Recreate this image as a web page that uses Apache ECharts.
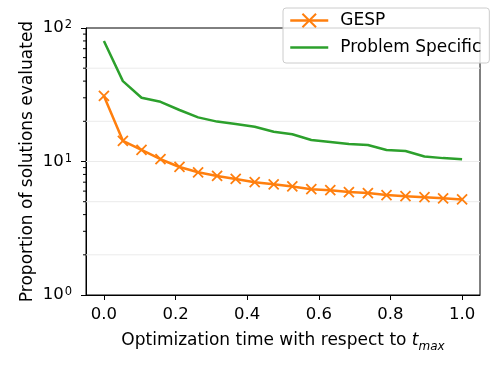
<!DOCTYPE html>
<html>
<head>
<meta charset="utf-8">
<script src="https://cdn.jsdelivr.net/npm/echarts@6/dist/echarts.min.js"></script>
<style>
html,body{margin:0;padding:0;background:#fff;}
#chart{width:498px;height:374px;}
</style>
</head>
<body>
<div id="chart"></div>
<script>
// ---- data ----
const timeValues = [0, 0.053, 0.105, 0.158, 0.211, 0.263, 0.316, 0.368, 0.421, 0.474,
                    0.526, 0.579, 0.632, 0.684, 0.737, 0.789, 0.842, 0.895, 0.947, 1.0];
const gespValues = [31, 14.3, 12.2, 10.4, 9.1, 8.3, 7.8, 7.4, 7.0, 6.75,
                    6.5, 6.2, 6.1, 5.9, 5.8, 5.6, 5.5, 5.4, 5.3, 5.2];
const specificValues = [80, 40, 30, 28, 24.3, 21.4, 19.9, 19.1, 18.2, 16.7,
                        16.0, 14.5, 14.0, 13.5, 13.3, 12.2, 12.0, 10.9, 10.6, 10.4];
const seriesNames = ['GESP', 'Problem Specific'];
const xTickValues = [0, 0.2, 0.4, 0.6, 0.8, 1.0];
const yMinorTicks = [2, 3, 4, 5, 6, 7, 8, 9, 20, 30, 40, 50, 60, 70, 80, 90];
const yGridValues = [2, 5, 10, 20, 50];
const xMin = -0.05, xMax = 1.05;

const fontFam = 'DejaVu Sans';
const chart = echarts.init(document.getElementById('chart'), null, {renderer: 'canvas'});

const xSym = 'path://M0,0 L10,10 M10,0 L0,10';

const option = {
  animation: false,
  textStyle: {fontFamily: fontFam},
  grid: {left: 86, right: 18, top: 28, bottom: 79, show: true, borderColor: '#000', borderWidth: 1, backgroundColor: 'transparent'},
  legend: {
    data: [
      {name: seriesNames[0]},
      {name: seriesNames[1], itemStyle: {opacity: 0}}
    ],
    orient: 'vertical',
    left: 283, top: 8,
    itemWidth: 38, itemHeight: 17, itemGap: 10,
    padding: [4, 8, 7, 6],
    backgroundColor: 'rgba(255,255,255,0.8)',
    borderColor: '#cccccc', borderWidth: 1, borderRadius: 3,
    lineStyle: {width: 2.5},
    textStyle: {fontFamily: fontFam, fontSize: 17, color: '#000', padding: [0, 0, 0, 7]},
    z: 20
  },
  xAxis: {
    type: 'value', min: xMin, max: xMax,
    name: '{n|Optimization time with respect to }{t|t}{s|max}',
    nameLocation: 'middle', nameGap: 37, nameMoveOverlap: false,
    nameTextStyle: {
      fontFamily: fontFam, fontSize: 17, color: '#000',
      rich: {
        n: {fontFamily: fontFam, fontSize: 17, color: '#000'},
        t: {fontFamily: fontFam, fontSize: 17, color: '#000', fontStyle: 'italic'},
        s: {fontFamily: fontFam, fontSize: 12, color: '#000', fontStyle: 'italic', verticalAlign: 'bottom', padding: [0, 0, -4, 0]}
      }
    },
    axisLine: {show: true, onZero: false, lineStyle: {color: '#000', width: 1}},
    axisTick: {show: true, inside: false, length: 5, lineStyle: {color: '#000'}, customValues: xTickValues},
    axisLabel: {show: true, margin: 11, fontSize: 16.5, color: '#000', fontFamily: fontFam,
      customValues: xTickValues, formatter: v => v.toFixed(1)},
    splitLine: {show: false}
  },
  yAxis: {
    type: 'log', logBase: 10, min: 1, max: 100,
    name: 'Proportion of solutions evaluated',
    nameLocation: 'middle', nameGap: 50, nameMoveOverlap: false,
    nameTextStyle: {fontFamily: fontFam, fontSize: 17, color: '#000'},
    axisLine: {show: true, onZero: false, lineStyle: {color: '#000', width: 1}},
    axisTick: {show: true, inside: false, length: 5, lineStyle: {color: '#000'}},
    axisLabel: {
      show: true, margin: 14, color: '#000', fontFamily: fontFam,
      formatter: function (v) {
        const e = Math.round(Math.log10(v));
        return '{b|10}{s|' + e + '}';
      },
      rich: {
        b: {fontFamily: fontFam, fontSize: 16.5, color: '#000'},
        s: {fontFamily: fontFam, fontSize: 11.5, color: '#000', verticalAlign: 'top', padding: [0, 0, 4, 1]}
      }
    },
    splitLine: {show: false}
  },
  series: [
    {
      name: 'gridlines', type: 'custom', z: 1, silent: true, clip: false,
      data: yGridValues.map(v => [xMin, v]),
      renderItem: function (params, api) {
        const y = api.coord([xMin, api.value(1)])[1];
        const x1 = api.coord([xMin, 1])[0];
        const x2 = api.coord([xMax, 1])[0];
        return {type: 'line', shape: {x1: x1, y1: y, x2: x2, y2: y},
          style: {stroke: '#ebebeb', lineWidth: 1}};
      }
    },
    {
      name: 'minorTicks', type: 'custom', z: 3, silent: true, clip: false,
      data: yMinorTicks.map(v => [xMin, v]),
      renderItem: function (params, api) {
        const p = api.coord([xMin, api.value(1)]);
        return {type: 'line', shape: {x1: p[0] - 3, y1: p[1], x2: p[0], y2: p[1]},
          style: {stroke: '#000', lineWidth: 1}};
      }
    },
    {
      name: seriesNames[0], type: 'line', z: 5,
      data: timeValues.map((x, i) => [x, gespValues[i]]),
      symbol: xSym, symbolSize: 10, showSymbol: true,
      lineStyle: {color: '#ff7f0e', width: 2.5},
      itemStyle: {color: '#ff7f0e', borderColor: '#ff7f0e', borderWidth: 1.8}
    },
    {
      name: seriesNames[1], type: 'line', z: 4,
      data: timeValues.map((x, i) => [x, specificValues[i]]),
      symbol: 'none', showSymbol: false,
      lineStyle: {color: '#2ca02c', width: 2.5},
      itemStyle: {color: '#2ca02c'}
    }
  ]
};
chart.setOption(option);
</script>
</body>
</html>
